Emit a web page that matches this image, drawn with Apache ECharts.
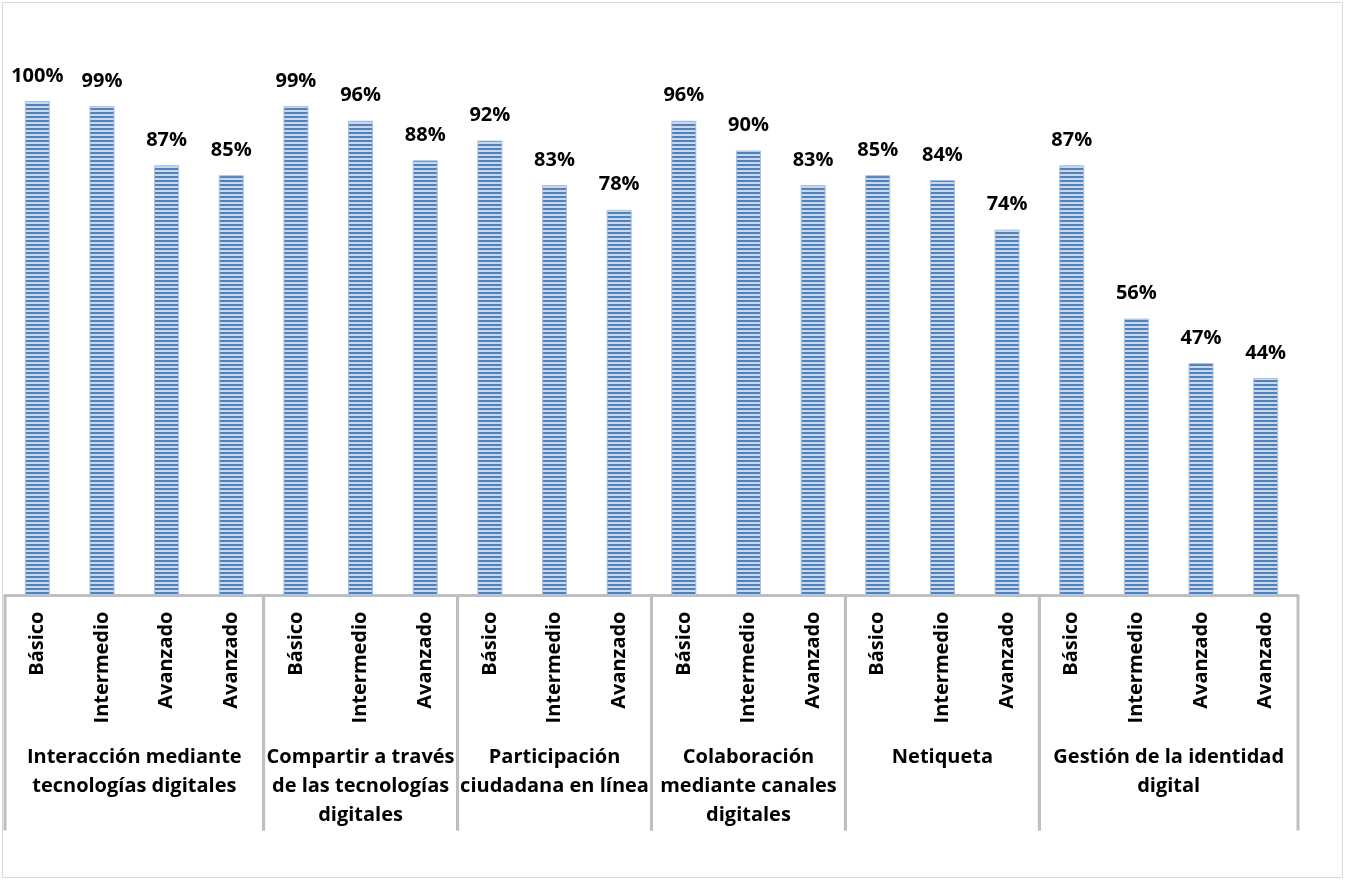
<!DOCTYPE html>
<html><head><meta charset="utf-8">
<script src="https://cdn.jsdelivr.net/npm/echarts@6/dist/echarts.min.js"></script>
<style>html,body{margin:0;padding:0;background:#fff}#c{width:1345px;height:880px}</style>
</head><body><div id="c"></div>
<script>
const categories = ['Básico','Intermedio','Avanzado','Avanzado','Básico','Intermedio','Avanzado','Básico','Intermedio','Avanzado','Básico','Intermedio','Avanzado','Básico','Intermedio','Avanzado','Básico','Intermedio','Avanzado','Avanzado'];
const values = [100,99,87,85,99,96,88,92,83,78,96,90,83,85,84,74,87,56,47,44];
const groupNames = ['Interacción mediante\ntecnologías digitales','Compartir a través\nde las tecnologías\ndigitales','Participación\nciudadana en línea','Colaboración\nmediante canales\ndigitales','Netiqueta','Gestión de la identidad\ndigital'];
const groupStart = [0,4,7,10,13,16];
const groupEnd = [3,6,9,12,15,19];

const FONT = '"Open Sans"';
const pc = document.createElement('canvas');
pc.width = 4; pc.height = 4;
const g = pc.getContext('2d');
g.fillStyle = '#c9d8ec'; g.fillRect(0,0,4,4);
g.fillStyle = '#4f81bd'; g.fillRect(0,0,4,2);

const chart = echarts.init(document.getElementById('c'));
chart.setOption({
  animation:false,
  backgroundColor:'#fff',
  graphic:[{type:'rect', shape:{x:2.5,y:2.5,width:1340,height:875}, style:{fill:'none', stroke:'#d9d9d9', lineWidth:1}, silent:true}],
  grid:{left:5, right:47, top:101, bottom:284.5},
  xAxis:{type:'category', data:categories,
    axisLine:{lineStyle:{color:'#bfbfbf', width:3}},
    axisTick:{show:false},
    axisLabel:{interval:0, rotate:90, margin:16, color:'#000', fontFamily:FONT, fontWeight:'bold', fontSize:20}
  },
  yAxis:{type:'value', min:0, max:100, show:false, splitLine:{show:false}},
  series:[
    {type:'bar', data:values, barWidth:25,
     itemStyle:{color:{image:pc, repeat:'repeat'}, borderColor:'#a9c1de', borderWidth:1},
     label:{show:true, position:'top', distance:15, formatter:'{c}%', color:'#000', fontFamily:FONT, fontWeight:'bold', fontSize:20}
    },
    {type:'custom', clip:false, silent:true,
     data: groupStart.map((s,i)=>[s, groupEnd[i]]),
     encode:{x:[0,1]},
     renderItem:function(params, api){
       const s = api.value(0), e = api.value(1);
       const bw = api.size([1,0])[0];
       const x0 = api.coord([s,0])[0]-bw/2;
       const x1 = api.coord([e,0])[0]+bw/2;
       const y0 = api.coord([s,0])[1];
       return {type:'group', children:[
         {type:'line', shape:{x1:x0,y1:y0,x2:x0,y2:y0+235}, style:{stroke:'#bfbfbf', lineWidth:3}},
         {type:'line', shape:{x1:x1,y1:y0,x2:x1,y2:y0+235}, style:{stroke:'#bfbfbf', lineWidth:3}},
         {type:'text', x:(x0+x1)/2, y:y0+147, style:{text:groupNames[params.dataIndex], fill:'#000', font:'bold 20px '+FONT, align:'center', verticalAlign:'top', lineHeight:29}}
       ]};
     }
    }
  ]
});
</script></body></html>
